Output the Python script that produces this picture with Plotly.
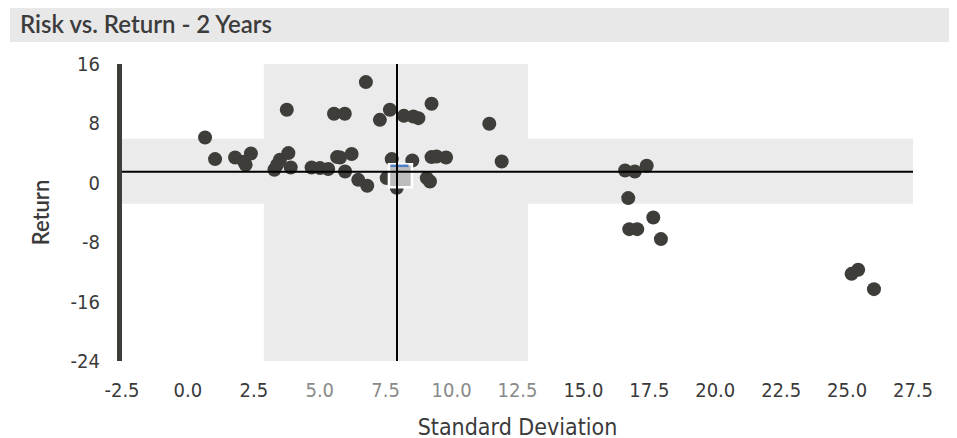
import plotly.graph_objects as go

# Fund points: standard deviation (x) vs return (y)
std_dev = [0.65, 1.03, 1.79, 2.39, 2.19, 2.13, 3.28, 3.38, 3.49, 3.81, 3.90, 3.75,
           6.75, 5.54, 5.95, 7.28, 7.66, 9.24, 8.19, 8.55, 8.74, 11.43, 11.90,
           4.69, 5.01, 5.32, 5.77, 6.21, 5.96, 6.46, 6.80, 7.73, 7.54, 7.92,
           8.51, 9.06, 9.18, 9.24, 9.43, 9.79, 5.66,
           16.58, 16.95, 17.40, 16.70, 16.74, 17.04, 17.65, 17.94,
           25.17, 25.42, 26.02]
returns = [6.10, 3.19, 3.41, 3.95, 2.42, 2.83, 1.75, 2.42, 3.10, 4.00, 2.06, 9.83,
           13.56, 9.29, 9.29, 8.48, 9.83, 10.64, 9.02, 8.93, 8.71, 7.95, 2.87,
           2.06, 1.98, 1.85, 3.41, 3.87, 1.52, 0.40, -0.40, 3.19, 0.63, -0.67,
           3.00, 0.63, 0.18, 3.46, 3.54, 3.41, 3.46,
           1.66, 1.52, 2.29, -2.06, -6.24, -6.24, -4.67, -7.58,
           -12.26, -11.72, -14.32]

# Benchmark point
bench_x = [8.06]
bench_y = [0.94]

# Reference lines and bands
mean_sd = 7.93
mean_ret = 1.5
sd_band = [2.88, 12.9]
ret_band = [-2.83, 5.93]

x_range = [-2.5, 27.5]
y_range = [-24, 16]
x_ticks = [-2.5, 0, 2.5, 5, 7.5, 10, 12.5, 15, 17.5, 20, 22.5, 25, 27.5]
y_ticks = [-24, -16, -8, 0, 8, 16]
y_ticktext = ["-24", "-16", "-8", "0", "8", "16"]
light_ticks = [5, 7.5, 10, 12.5]

x_ticktext = []
for t in x_ticks:
    s = f"{t:.1f}"
    if t in light_ticks:
        s = f"<span style='color:#8a8a8a'>{s}</span>"
    x_ticktext.append(s)

dark = "#3f3d39"
band = "#ebebeb"
narrow = "DejaVu Sans Condensed, Roboto, sans-serif"
tickfont = dict(family=narrow, size=20, color="#3a3a3a")

fig = go.Figure()

fig.add_trace(go.Scatter(x=std_dev, y=returns, mode="markers",
                         marker=dict(size=14, color=dark, line=dict(width=0)),
                         showlegend=False, hoverinfo="x+y"))
fig.add_trace(go.Scatter(x=bench_x, y=bench_y, mode="markers",
                         marker=dict(symbol="square", size=23, color="#bdbdbd",
                                     line=dict(color="white", width=2.5)),
                         showlegend=False))

shapes = [
    dict(type="rect", xref="x", yref="y", x0=sd_band[0], x1=sd_band[1],
         y0=y_range[0], y1=y_range[1], fillcolor=band, line=dict(width=0), layer="below"),
    dict(type="rect", xref="x", yref="y", x0=x_range[0], x1=x_range[1],
         y0=ret_band[0], y1=ret_band[1], fillcolor=band, line=dict(width=0), layer="below"),
    # blue top edge of the benchmark marker (pixel offsets anchored on the data point)
    dict(type="line", xref="x", yref="y", xsizemode="pixel", ysizemode="pixel",
         xanchor=bench_x[0], yanchor=bench_y[0], x0=-10, x1=8, y0=10, y1=10,
         line=dict(color="#4f7fc9", width=2.5), layer="above"),
    dict(type="line", xref="x", yref="y", x0=mean_sd, x1=mean_sd,
         y0=y_range[0], y1=y_range[1], line=dict(color="black", width=2), layer="above"),
    dict(type="line", xref="x", yref="y", x0=x_range[0], x1=x_range[1],
         y0=mean_ret, y1=mean_ret, line=dict(color="black", width=2), layer="above"),
    # title bar
    dict(type="rect", xref="paper", yref="paper", x0=-0.1416, x1=1.0556,
         y0=1.074, y1=1.199, fillcolor="#e8e8e8", line=dict(width=0), layer="below"),
]

fig.update_layout(
    width=957, height=438,
    margin=dict(l=114, r=52, t=56, b=85),
    plot_bgcolor="white", paper_bgcolor="white",
    shapes=shapes,
    annotations=[dict(text="Risk vs. Return - 2 Years", xref="paper", yref="paper",
                      x=-0.1315, y=1.1365, xanchor="left", yanchor="middle",
                      showarrow=False,
                      font=dict(family="Lato, Noto Sans, sans-serif", size=24,
                                weight=600, color="#3c3c3c"))],
    xaxis=dict(range=x_range, tickvals=x_ticks, ticktext=x_ticktext, showgrid=False,
               zeroline=False, showline=False, ticks="", tickfont=tickfont,
               ticklabelstandoff=15,
               title=dict(text="Standard Deviation", standoff=17,
                          font=dict(family=narrow, size=23, color="#3a3a3a"))),
    yaxis=dict(range=y_range, tickvals=y_ticks, ticktext=y_ticktext, showgrid=False,
               zeroline=False, showline=True, linewidth=5, linecolor=dark, ticks="",
               tickfont=tickfont, ticklabelstandoff=13,
               title=dict(text="Return", standoff=16,
                          font=dict(family="Lato, Noto Sans, sans-serif", size=22,
                                    weight=600, color="#3a3a3a"))),
)

fig.write_html("out.html")
